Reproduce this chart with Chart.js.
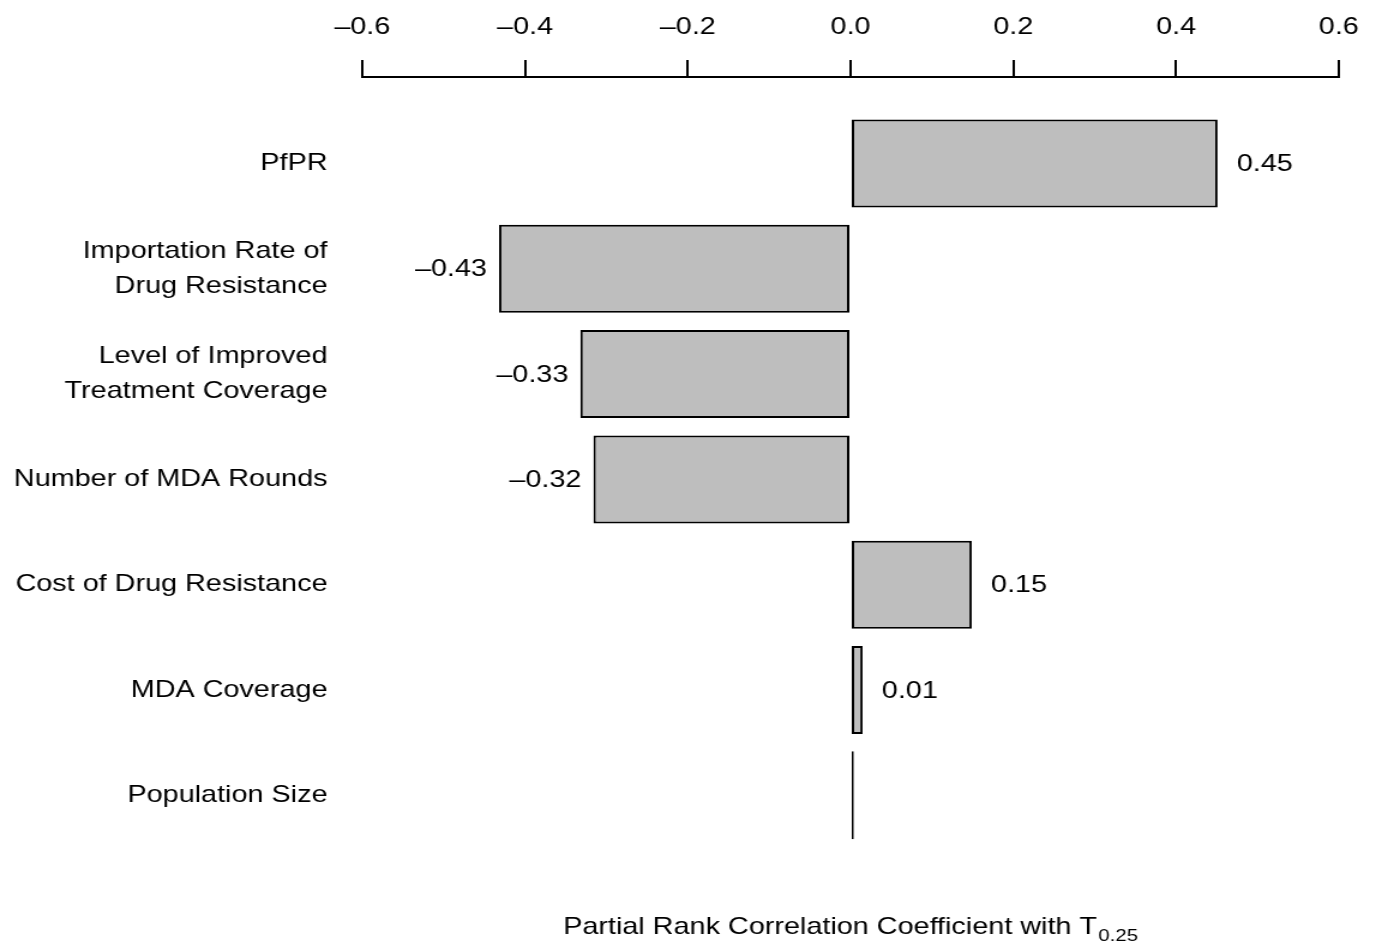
<!DOCTYPE html>
<html>
<head>
<meta charset="utf-8">
<script src="https://cdn.jsdelivr.net/npm/chart.js@4/dist/chart.umd.min.js"></script>
<style>
  html, body { margin: 0; padding: 0; background: #ffffff; overflow: hidden; }
  #wrap { width: 1376px; height: 943px; }
  /* the reference figure is stretched horizontally (~1.2x); reproduce by drawing at 1147 wide and displaying at 1376 */
  #c { display: block; width: 1376px; height: 943px; }
</style>
</head>
<body>
<div id="wrap"><canvas id="c" width="1147" height="943" style="width:1376px;height:943px"></canvas></div>
<script>
const categories = [
  ["PfPR"],
  ["Importation Rate of", "Drug Resistance"],
  ["Level of Improved", "Treatment Coverage"],
  ["Number of MDA Rounds"],
  ["Cost of Drug Resistance"],
  ["MDA Coverage"],
  ["Population Size"]
];
const prccValues = [0.451, -0.432, -0.332, -0.316, 0.149, 0.0149, 0.004];
const xTickValues = [-0.6, -0.4, -0.2, 0.0, 0.2, 0.4, 0.6];
const xTitleMain = "Partial Rank Correlation Coefficient with T";
const xTitleSub = "0.25";

const FONT = "'Liberation Sans', Arial, Helvetica, sans-serif";
const dash = s => s.replace('-', '\u2013');

const valueLabels = {
  id: 'valueLabels',
  afterDatasetsDraw(chart) {
    const ctx = chart.ctx;
    const meta = chart.getDatasetMeta(0);
    ctx.save();
    ctx.font = "24px " + FONT;
    ctx.fillStyle = "#000";
    ctx.textBaseline = "middle";
    meta.data.forEach((bar, i) => {
      const v = prccValues[i];
      if (Math.abs(v) < 0.005) return;
      const txt = dash(v.toFixed(2));
      if (v >= 0) {
        ctx.textAlign = "left";
        ctx.fillText(txt, bar.x + 16, bar.y + 1);
      } else {
        ctx.textAlign = "right";
        ctx.fillText(txt, bar.x - 10, bar.y + 1);
      }
    });
    ctx.restore();
  }
};

const subTitle = {
  id: 'subTitle',
  afterDraw(chart) {
    const ctx = chart.ctx;
    const ca = chart.chartArea;
    ctx.save();
    ctx.fillStyle = "#000";
    ctx.textBaseline = "alphabetic";
    ctx.textAlign = "left";
    ctx.font = "24px " + FONT;
    const w1 = ctx.measureText(xTitleMain).width;
    ctx.font = "17px " + FONT;
    const w2 = ctx.measureText(xTitleSub).width;
    const total = w1 + w2 + 1;
    const x0 = (ca.left + ca.right) / 2 - total / 2;
    ctx.font = "24px " + FONT;
    ctx.fillText(xTitleMain, x0, 934);
    ctx.font = "17px " + FONT;
    ctx.fillText(xTitleSub, x0 + w1 + 1, 941);
    ctx.restore();
  }
};

const bg = {
  id: 'bg',
  beforeDraw(chart) {
    const ctx = chart.ctx;
    ctx.save();
    ctx.fillStyle = "#ffffff";
    ctx.fillRect(0, 0, chart.width, chart.height);
    ctx.restore();
  }
};

const chart = new Chart(document.getElementById('c'), {
  type: 'bar',
  data: {
    datasets: [{
      data: prccValues.map((v, i) => ({ x: v, y: i })),
      backgroundColor: "#bebebe",
      borderColor: "#000000",
      borderWidth: 2,
      borderSkipped: false,
      inflateAmount: 0,
      barThickness: 88
    }]
  },
  plugins: [bg, valueLabels, subTitle],
  options: {
    indexAxis: 'y',
    responsive: false,
    maintainAspectRatio: false,
    devicePixelRatio: 1,
    animation: false,
    events: [],
    layout: { padding: { top: 0, right: 31, bottom: 95, left: 0 } },
    plugins: {
      legend: { display: false },
      tooltip: { enabled: false },
      title: { display: false }
    },
    scales: {
      x: {
        type: 'linear',
        position: 'top',
        min: -0.6,
        max: 0.6,
        afterFit(scale) { scale.height = 77; scale.paddingRight = 0; scale.paddingLeft = 0; },
        afterBuildTicks(scale) { scale.ticks = xTickValues.map(v => ({ value: v })); },
        grid: {
          display: true,
          drawOnChartArea: false,
          drawTicks: true,
          tickLength: 17,
          color: "#000",
          lineWidth: 2
        },
        border: { display: true, color: "#000", width: 2 },
        ticks: {
          color: "#000",
          font: { family: FONT, size: 24 },
          padding: 18,
          maxRotation: 0,
          autoSkip: false,
          callback: (v) => dash(Number(v).toFixed(1))
        }
      },
      y: {
        type: 'linear',
        reverse: true,
        offset: false,
        bounds: 'data',
        grace: 0,
        min: -0.821,
        max: 6.5,
        afterFit(scale) { scale.width = 302; },
        afterBuildTicks(scale) { scale.ticks = categories.map((_, i) => ({ value: i })); },
        grid: { display: false, drawTicks: false },
        border: { display: false },
        ticks: {
          color: "#000",
          font: { family: FONT, size: 24, lineHeight: 1.45 },
          padding: 29,
          autoSkip: false,
          callback: (v) => categories[v] || ''
        }
      }
    }
  }
});
</script>
</body>
</html>
